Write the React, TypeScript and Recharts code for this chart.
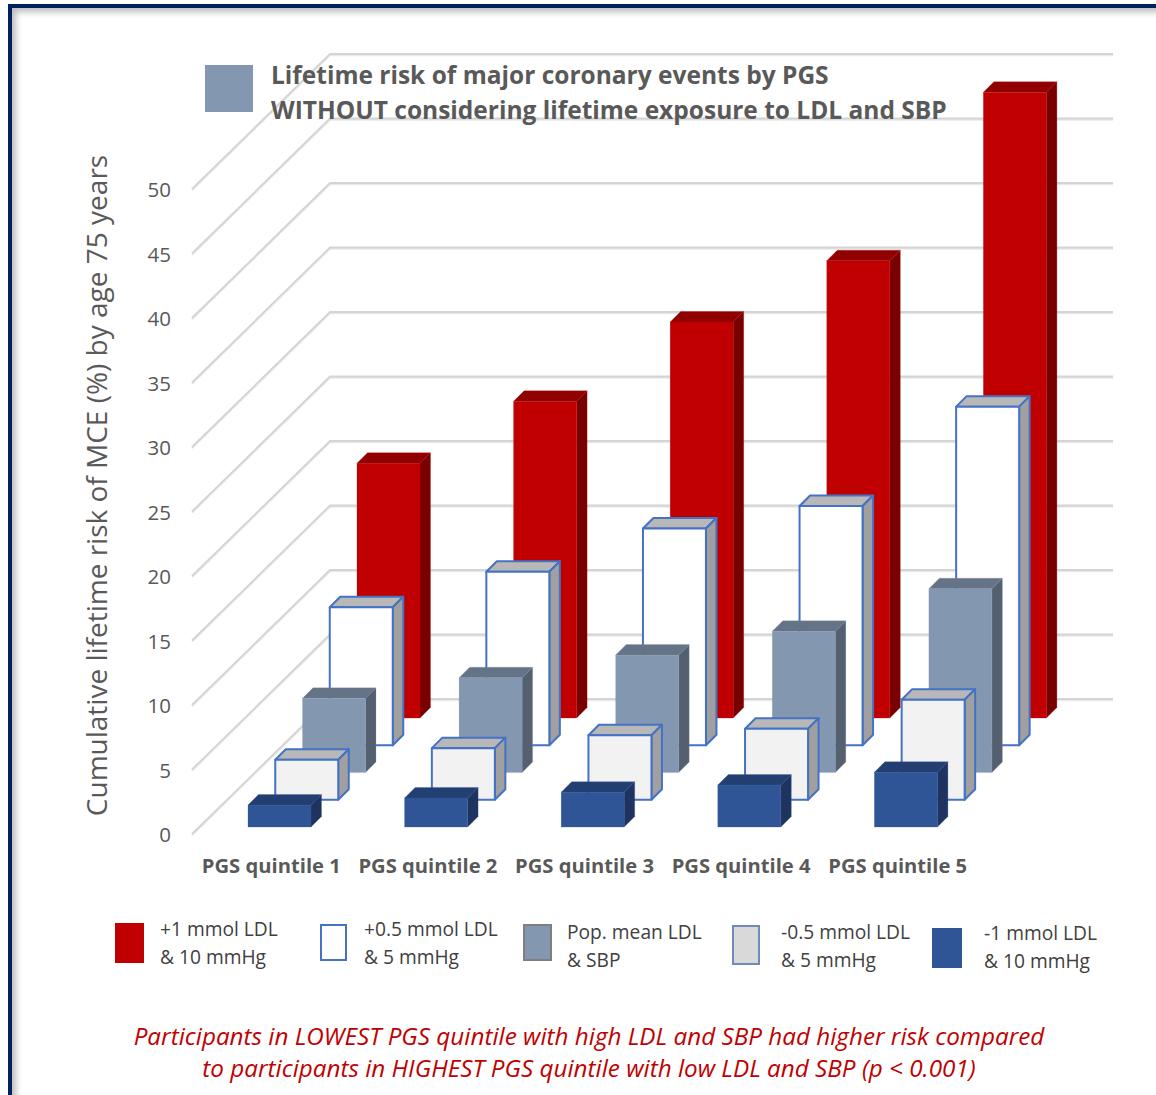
import { BarChart, Bar, CartesianGrid, XAxis, YAxis } from 'recharts'

const quintiles = ['PGS quintile 1', 'PGS quintile 2', 'PGS quintile 3', 'PGS quintile 4', 'PGS quintile 5']
const plusOne = [19.75, 24.55, 30.7, 35.45, 48.5]
const plusHalf = [10.7, 13.45, 16.8, 18.55, 26.25]
const popMean = [5.75, 7.35, 9.1, 10.95, 14.25]
const minusHalf = [3.1, 4.0, 5.0, 5.5, 7.75]
const minusOne = [1.7, 2.25, 2.7, 3.25, 4.25]
const yTicks = [0, 5, 10, 15, 20, 25, 30, 35, 40, 45, 50]

const data = quintiles.map((name, i) => ({
  name,
  plusOne: plusOne[i],
  plusHalf: plusHalf[i],
  popMean: popMean[i],
  minusHalf: minusHalf[i],
  minusOne: minusOne[i],
}))

const FONT = '"Open Sans", sans-serif'
const GREY_TEXT = '#595959'

// floor runs from the front plane to the back wall
const WALL_DX = 138
const WALL_DY = 135
// a box's own depth, and how far each row sits behind the one in front
const BOX_DEPTH = 10.5
const ROW_STEP = 27.25

type BoxStyle = { front: string; top: string; side: string; stroke?: string }

const boxStyles: Record<string, BoxStyle> = {
  plusOne: { front: '#c00000', top: '#900000', side: '#780000' },
  plusHalf: { front: '#ffffff', top: '#b8b8b8', side: '#a0a0a0', stroke: '#4472c4' },
  popMean: { front: '#8497b0', top: '#647386', side: '#546070' },
  minusHalf: { front: '#f2f2f2', top: '#b8b8b8', side: '#a0a0a0', stroke: '#4472c4' },
  minusOne: { front: '#2f5597', top: '#233f72', side: '#1e3360' },
}

const Box3D = ({ x, y, width, height, row, style }: any) => {
  const dx = 9 + row * ROW_STEP
  const dy = 7 + row * ROW_STEP
  const l = x + dx
  const r = l + width
  const t = y - dy
  const b = t + height
  const d = BOX_DEPTH
  const edge = style.stroke
    ? { stroke: style.stroke, strokeWidth: 2, strokeLinejoin: 'round' as const }
    : { stroke: style.front, strokeWidth: 0.5, strokeOpacity: 0.5 }
  return (
    <g>
      <path d={`M${l},${t} L${l + d},${t - d} L${r + d},${t - d} L${r},${t} Z`} fill={style.top} {...edge} />
      <path d={`M${r},${t} L${r + d},${t - d} L${r + d},${b - d} L${r},${b} Z`} fill={style.side} {...edge} />
      <rect x={l} y={t} width={width} height={height} fill={style.front} {...edge} />
    </g>
  )
}

const WallLine = ({ x1, y1, x2 }: any) => (
  <g fill="none">
    <path
      d={`M${x1},${y1 + 1.2} L${x1 + WALL_DX},${y1 - WALL_DY + 1.2} L${x2 + WALL_DX},${y1 - WALL_DY + 1.2}`}
      stroke="#e9e9e9"
      strokeWidth={2}
    />
    <path
      d={`M${x1},${y1} L${x1 + WALL_DX},${y1 - WALL_DY} L${x2 + WALL_DX},${y1 - WALL_DY}`}
      stroke="#d4d4d4"
      strokeWidth={1.8}
    />
  </g>
)

const seriesOrder = ['plusOne', 'plusHalf', 'popMean', 'minusHalf', 'minusOne']

const legendItems = [
  { lines: ['+1 mmol LDL', '& 10 mmHg'], fill: '#c00000', border: '#c00000', box: [115, 923, 29, 40], text: [160, 915] },
  { lines: ['+0.5 mmol LDL', '& 5 mmHg'], fill: '#ffffff', border: '#4472c4', box: [320, 924, 27, 37], text: [364, 915] },
  { lines: ['Pop. mean LDL', '& SBP'], fill: '#8497b0', border: '#7f7f7f', box: [523, 924, 29, 37], text: [567, 918] },
  { lines: ['-0.5 mmol LDL', '& 5 mmHg'], fill: '#d9d9d9', border: '#6f8ab7', box: [732, 925, 28, 40], text: [781, 918] },
  { lines: ['-1 mmol LDL', '& 10 mmHg'], fill: '#2f5597', border: '#2f5597', box: [932, 928, 30, 40], text: [984, 919] },
]

const abs = (left: number, top: number): React.CSSProperties => ({ position: 'absolute', left, top })

const App = () => {
  return (
    <div style={{ position: 'absolute', left: 0, top: 0, width: 1156, height: 1095, overflow: 'hidden', background: '#fff', fontFamily: FONT }}>
      <div
        style={{
          position: 'absolute',
          left: 8,
          top: 4,
          width: 1400,
          height: 1400,
          border: '4px solid #002060',
          boxShadow: 'inset 4px 4px 6px #bdbdbd',
        }}
      />
      <div style={abs(0, 0)}>
        <BarChart
          width={1156}
          height={1095}
          data={data}
          margin={{ top: 189, right: 181, bottom: 231, left: 132 }}
          barSize={63}
          barGap={-63}
        >
          <CartesianGrid vertical={false} horizontal={(p: any) => <WallLine key={p.key} {...p} />} />
          <XAxis
            dataKey="name"
            height={30}
            axisLine={false}
            tickLine={false}
            tickSize={0}
            tickMargin={25}
            interval={0}
            tick={{ fill: GREY_TEXT, fontSize: 20.2, fontWeight: 700, fontFamily: FONT, dx: 1 }}
          />
          <YAxis
            width={60}
            domain={[0, 50]}
            ticks={yTicks}
            axisLine={false}
            tickLine={false}
            tickSize={0}
            tickMargin={21}
            tick={{ fill: GREY_TEXT, fontSize: 20.5, fontFamily: FONT, dy: 1 }}
            label={{
              value: 'Cumulative lifetime risk of MCE (%) by age 75 years',
              angle: -90,
              position: 'center',
              dx: -65,
              dy: -26,
              fill: GREY_TEXT,
              fontSize: 28,
              fontFamily: FONT,
            }}
          />
          {seriesOrder.map((key, i) => (
            <Bar
              key={key}
              dataKey={key}
              isAnimationActive={false}
              shape={(p: any) => <Box3D {...p} row={seriesOrder.length - 1 - i} style={boxStyles[key]} />}
            />
          ))}
        </BarChart>
      </div>

      <div style={{ ...abs(205, 65), width: 48, height: 47, background: '#8497b0' }} />
      <div style={{ ...abs(271, 56.5), color: GREY_TEXT, fontSize: 24.5, fontWeight: 700, lineHeight: '35px', whiteSpace: 'nowrap' }}>
        Lifetime risk of major coronary events by PGS
        <br />
        WITHOUT considering lifetime exposure to LDL and SBP
      </div>

      {legendItems.map((item) => (
        <div key={item.lines[0]}>
          <div
            style={{
              ...abs(item.box[0], item.box[1]),
              width: item.box[2],
              height: item.box[3],
              boxSizing: 'border-box',
              background: item.fill,
              border: `2px solid ${item.border}`,
            }}
          />
          <div style={{ ...abs(item.text[0], item.text[1]), color: '#404040', fontSize: 19.2, lineHeight: '28px', whiteSpace: 'nowrap' }}>
            {item.lines[0]}
            <br />
            {item.lines[1]}
          </div>
        </div>
      ))}

      <div
        style={{
          ...abs(0, 1020),
          width: 1178,
          textAlign: 'center',
          color: '#c00000',
          fontSize: 24.25,
          fontStyle: 'italic',
          lineHeight: '32px',
        }}
      >
        Participants in LOWEST PGS quintile with high LDL and SBP had higher risk compared
        <br />
        to participants in HIGHEST PGS quintile with low LDL and SBP (p &lt; 0.001)
      </div>
    </div>
  )
}

export default App
